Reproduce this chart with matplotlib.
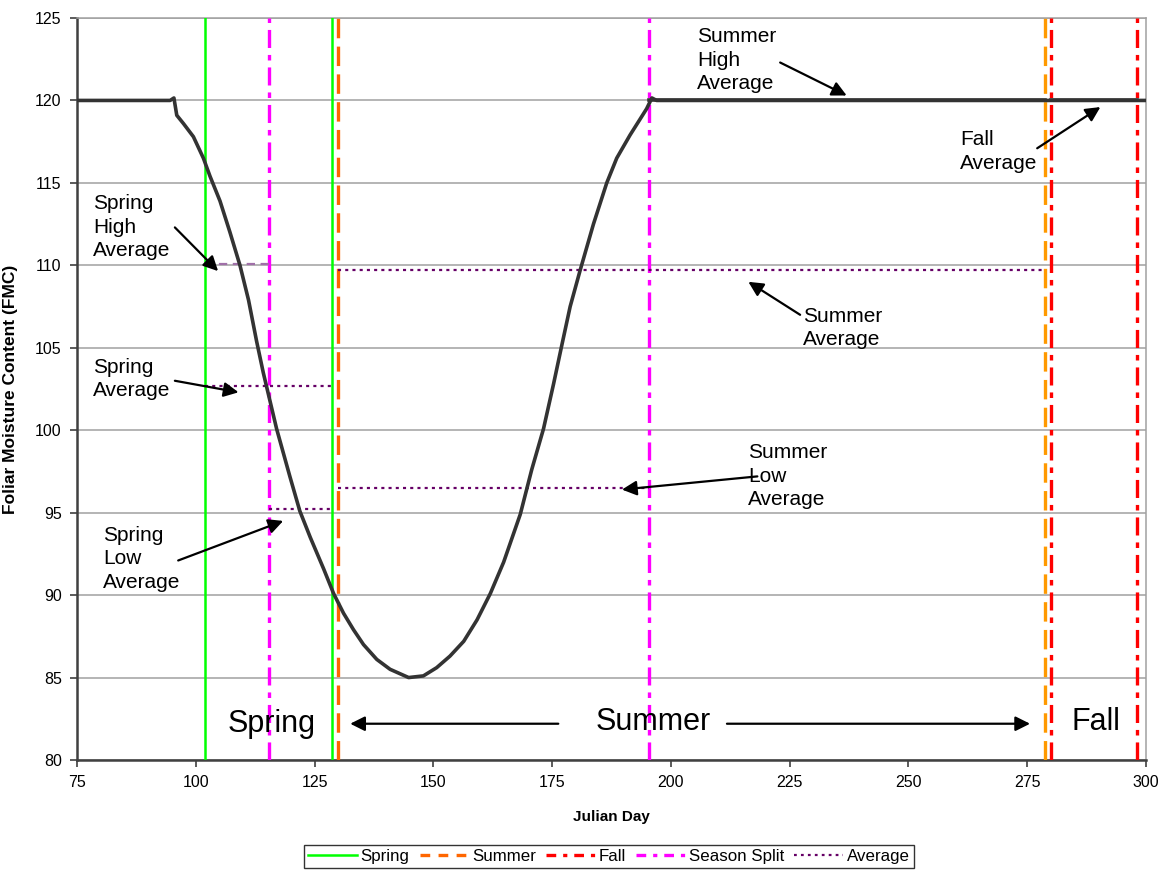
import matplotlib
matplotlib.use("Agg")
import matplotlib.pyplot as plt
from matplotlib.lines import Line2D

plt.rcParams['font.family'] = ['Liberation Sans', 'DejaVu Sans']
plt.rcParams['lines.scale_dashes'] = False

# ---- data ----
day = [75, 94.6, 95.4, 96.0, 97.4, 99.5, 101.6, 103.0, 105.1, 107.2, 109.3, 111.1,
       112.8, 114.2, 115.6, 117.0, 119.8, 121.9, 124.1, 126.9, 129.0, 131.1, 133.2,
       135.3, 138.1, 140.9, 144.8, 147.9, 150.7, 153.5, 156.4, 159.2, 162.0, 164.8,
       168.3, 170.7, 173.2, 175.3, 177.0, 178.8, 180.9, 183.7, 186.5, 188.6, 191.4,
       194.9, 196.0, 197.0, 300]
fmc = [120.0, 120.0, 120.15, 119.1, 118.6, 117.8, 116.5, 115.4, 113.9, 112.0, 110.0,
       107.9, 105.4, 103.5, 101.8, 100.1, 97.2, 95.1, 93.5, 91.6, 90.1, 88.9, 87.9,
       87.0, 86.1, 85.5, 85.0, 85.1, 85.6, 86.3, 87.2, 88.5, 90.1, 92.0,
       94.9, 97.6, 100.1, 102.8, 105.1, 107.5, 109.7, 112.5, 115.0, 116.5, 117.9,
       119.5, 120.15, 120.0, 120.0]

spring_days = [102, 128.7]
summer_days = [129.9, 278.8]
fall_days = [280, 298.2]
split_days = [115.4, 195.4]

# averages: (value, start day, end day)
spring_high_avg = (110.1, 102, 115.4)
spring_avg = (102.7, 102, 128.7)
spring_low_avg = (95.2, 115.4, 128.7)
summer_avg = (109.7, 129.9, 278.8)
summer_low_avg = (96.5, 129.9, 195.4)
summer_high_avg = (120.0, 195.4, 278.8)
fall_avg = (120.0, 280, 298.2)

legend_labels = ['Spring', 'Summer', 'Fall', 'Season Split', 'Average']

# ---- figure ----
fig = plt.figure(figsize=(11.64, 8.71), dpi=100)
ax = fig.add_axes([77/1164, 1-760/871, (1146-77)/1164, (760-18)/871])

ax.set_xlim(75, 300)
ax.set_ylim(80, 125)
ax.set_xticks(range(75, 301, 25))
ax.set_yticks(range(80, 126, 5))
ax.yaxis.grid(True, color='#a0a0a0', lw=1.1)
ax.set_axisbelow(True)
for s in ['top', 'right']:
    ax.spines[s].set_color('#a0a0a0')
    ax.spines[s].set_linewidth(1.1)
for s in ['left', 'bottom']:
    ax.spines[s].set_color('#404040')
    ax.spines[s].set_linewidth(1.8)
ax.tick_params(axis='both', direction='out', length=5, width=1.2, color='#404040',
               labelsize=11.5, pad=6)

green = '#00ff00'
orange = '#ff6600'
orange2 = '#ff9900'
red = '#ff0000'
magenta = '#ff00ff'
purple = '#660066'

dash_summer = (0, (14, 6))
dash_dot = (0, (13, 5, 4, 5))
dotted = (0, (2.2, 3.0))

for d in spring_days:
    ax.axvline(d, color=green, lw=1.8, zorder=3)
ax.axvline(summer_days[0], color=orange, lw=2.4, ls=dash_summer, zorder=3)
ax.axvline(summer_days[1], color=orange2, lw=2.4, ls=dash_summer, zorder=3)
for d in fall_days:
    ax.axvline(d, color=red, lw=2.4, ls=dash_dot, zorder=3)
for d in split_days:
    ax.axvline(d, color=magenta, lw=2.4, ls=dash_dot, zorder=3)

v, a, b = spring_high_avg
ax.plot([a, b], [v, v], color='#a070a8', lw=1.6, ls=(0, (6, 4)), zorder=4)
for v, a, b in [spring_avg, spring_low_avg, summer_avg, summer_low_avg]:
    ax.plot([a, b], [v, v], color=purple, lw=1.6, ls=dotted, zorder=4)

ax.plot(day, fmc, color='#333333', lw=2.6, zorder=5, solid_joinstyle='round')
ax.plot([summer_high_avg[1], summer_high_avg[2]], [summer_high_avg[0]] * 2,
        color='#333333', lw=2.6, zorder=5)
ax.plot([fall_avg[1], fall_avg[2]], [fall_avg[0]] * 2, color='#333333', lw=2.6, zorder=5)

ax.set_xlabel('Julian Day', fontsize=11, fontweight='bold', labelpad=14)
ax.set_ylabel('Foliar Moisture Content (FMC)', fontsize=12.5, fontweight='bold', labelpad=12)

arrow = dict(arrowstyle='-|>', color='black', lw=1.6, mutation_scale=22, shrinkA=0, shrinkB=0)
fs = 15
lsp = 1.3

def label(x, y, text):
    ax.text(x, y, text, fontsize=fs, ha='left', va='center', linespacing=lsp)

def arr(xy, xytext):
    ax.annotate('', xy=xy, xytext=xytext, arrowprops=arrow, zorder=6)

label(205.5, 122.45, 'Summer\nHigh\nAverage')
arr((237, 120.3), (223, 122.3))

label(260.9, 116.9, 'Fall\nAverage')
arr((290.4, 119.6), (277.1, 117.1))

label(78.4, 112.3, 'Spring\nHigh\nAverage')
arr((104.7, 109.65), (95.6, 112.3))

label(78.4, 103.1, 'Spring\nAverage')
arr((109.0, 102.3), (95.6, 103.0))

label(80.5, 92.2, 'Spring\nLow\nAverage')
arr((118.4, 94.5), (96.3, 92.1))

label(227.8, 106.2, 'Summer\nAverage')
arr((216.3, 109.0), (227.2, 107.0))

label(216.3, 97.2, 'Summer\nLow\nAverage')
arr((189.7, 96.4), (218.2, 97.2))

ax.text(116.0, 82.2, 'Spring', fontsize=22, ha='center', va='center')
ax.text(196.3, 82.3, 'Summer', fontsize=22, ha='center', va='center')
ax.text(289.5, 82.3, 'Fall', fontsize=22, ha='center', va='center')
ax.annotate('', xy=(132.5, 82.2), xytext=(176.3, 82.2), arrowprops=arrow, zorder=6)
ax.annotate('', xy=(275.6, 82.2), xytext=(211.8, 82.2), arrowprops=arrow, zorder=6)

handles = [
    Line2D([], [], color=green, lw=1.8),
    Line2D([], [], color=orange, lw=2.4, ls=(0, (7, 6))),
    Line2D([], [], color=red, lw=2.4, ls=(0, (7, 5, 3, 5))),
    Line2D([], [], color=magenta, lw=2.4, ls=(0, (7, 5, 3, 5))),
    Line2D([], [], color=purple, lw=1.6, ls=(0, (2, 3))),
]
leg = fig.legend(handles, legend_labels, loc='center', bbox_to_anchor=(609/1164, 1-856.5/871),
                 ncol=5, fontsize=12.2, frameon=True, fancybox=False, handlelength=2.9,
                 handletextpad=0.2, columnspacing=0.6, borderpad=0.25, borderaxespad=0)
leg.get_frame().set_edgecolor('black')
leg.get_frame().set_linewidth(1.0)

fig.savefig('out.png', dpi=100)
